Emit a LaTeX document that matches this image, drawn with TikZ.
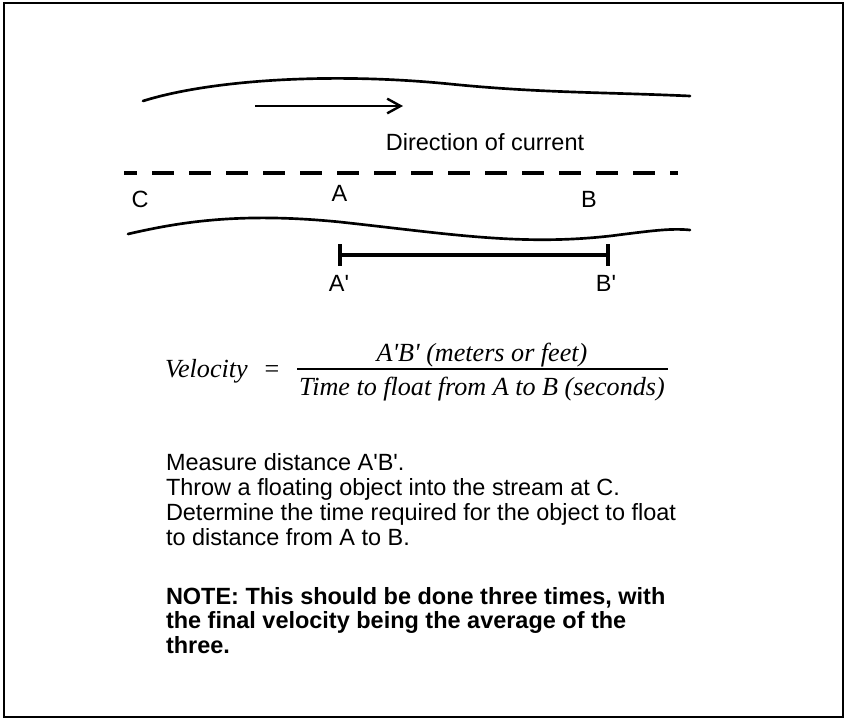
\documentclass[tikz,border=0pt]{standalone}
\usepackage{fontspec}
\setmainfont{Liberation Serif}
\newfontfamily\arialfont{Liberation Sans}
\newfontfamily\timesfont{Liberation Serif}
\usetikzlibrary{arrows.meta,calc}
\tikzset{
  lbl/.style={inner sep=0pt, outer sep=0pt, font=\arialfont\fontsize{17.6}{18.75}\selectfont},
  bodytxt/.style={inner sep=0pt, outer sep=0pt, anchor=base west, font=\arialfont\fontsize{17.6}{18.75}\selectfont},
  boldtxt/.style={bodytxt, font=\arialfont\bfseries\fontsize{17.6}{18.75}\selectfont},
  mathtxt/.style={inner sep=0pt, outer sep=0pt, font=\timesfont\itshape\fontsize{19.6}{22}\selectfont},
  bank/.style={line width=2pt, line cap=round},
  thick line/.style={line width=2.4pt},
}
\begin{document}
\begin{tikzpicture}[x=0.75pt,y=-0.75pt]
\useasboundingbox (0,0) rectangle (844,718);
% frame
\draw[line width=1.5pt] (3.5,2.5) rectangle (842.5,716.5);
% banks
\draw[bank] (143,101) .. controls (210,80) and (330,72) .. (450,84) .. controls (540,93) and (600,92) .. (690,96);
\draw[bank] (128,234) .. controls (180,222) and (240,212) .. (340,222) .. controls (450,234) and (520,246) .. (610,236) .. controls (650,231) and (670,228) .. (690,230);
% arrow
\coordinate (arrS) at (255,106);
\coordinate (arrE) at (403,106);
\draw[line width=2pt, -{Straight Barb[length=10pt,width=11pt,line width=1.8pt]}] (arrS) -- (arrE);
\node[lbl, anchor=base] (dir) at (485,150) {Direction of current};
% dashed line
\coordinate (dS) at (124,173);
\coordinate (dE) at (678,173);
\draw[line width=2.5pt, dash pattern=on 16.5pt off 11.25pt, dash phase=6.75pt] (dS) -- (dE);
% labels
\node[lbl, anchor=base] (C) at (140,207.5) {C};
\node[lbl, anchor=base] (A) at (339.5,201.5) {A};
\node[lbl, anchor=base] (B) at (589,207.5) {B};
% bar A'B'
\coordinate (pA) at (340,255);
\coordinate (pB) at (608,255);
\draw[thick line] (pA) -- (pB);
\draw[thick line] ($(pA)+(0,-11)$) -- ($(pA)+(0,11)$);
\draw[thick line] ($(pB)+(0,-11)$) -- ($(pB)+(0,11)$);
\node[lbl, anchor=base] (Ap) at (339,291.5) {A'};
\node[lbl, anchor=base] (Bp) at (606,291.5) {B'};
% formula
\node[mathtxt, anchor=base west] (vel) at (165,377) {Velocity};
\node[mathtxt, anchor=base] (eq) at (272,377) {\upshape =};
\coordinate (fS) at (297,369);
\coordinate (fE) at (668,369);
\draw[line width=1.1pt] (fS) -- (fE);
\node[mathtxt, anchor=base] (num) at (482,361) {A'B' (meters or feet)};
\node[mathtxt, anchor=base] (den) at (482,395) {Time to float from A to B (seconds)};
% text
\node[bodytxt] (t1) at (166,470) {Measure distance A'B'.};
\node[bodytxt] (t2) at (166,495) {Throw a floating object into the stream at C.};
\node[bodytxt] (t3) at (166,520) {Determine the time required for the object to float};
\node[bodytxt] (t4) at (166,545) {to distance from A to B.};
\node[boldtxt] (n1) at (166,604) {NOTE: This should be done three times, with};
\node[boldtxt] (n2) at (166,628) {the final velocity being the average of the};
\node[boldtxt] (n3) at (166,653) {three.};
\end{tikzpicture}
\end{document}
